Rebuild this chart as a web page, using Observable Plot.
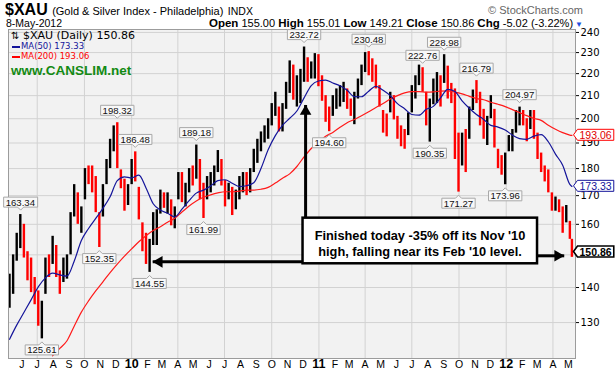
<!DOCTYPE html>
<html><head><meta charset="utf-8">
<script src="https://cdn.jsdelivr.net/npm/d3@7"></script>
<script src="https://cdn.jsdelivr.net/npm/@observablehq/plot@0.6"></script>
<style>
body{margin:0;background:#fff;}
#wrap{position:relative;width:616px;height:376px;overflow:hidden;font-family:"Liberation Sans",Arial,sans-serif;}
#wrap svg{position:absolute;left:0;top:0;}
.t{position:absolute;white-space:nowrap;}
</style></head><body><div id="wrap"></div>
<script>
// ---- data ----
const firstWeek = Date.UTC(2009, 4, 8);   // Friday of the first weekly bar
const weekHigh = [144,150,157,163.34,160,151,149,143,139,136,
149,150,156,153,145,149,150,164,174,171,
166,180,181,181,177,164,174,183.5,191.5,197,
198.32,179.5,176,174,183.5,186.48,173,160.5,157,155,
164,165,172,171,171,168.5,166,178.5,178.5,174.5,
180,181,189.18,183.5,174.5,177,178.5,181,187,183.5,
175.5,174.5,173,172,177,178.5,178.5,180,187.5,191.5,
194.5,197,200,206.5,211.5,205,206.5,216,226,224,
219,222,232.72,227.5,225.5,229.5,229,219,210,205,
210,213,214.5,216,213,208.5,211.5,217.5,224,230,
230.48,227,224,214.5,203.5,202,211.5,210,201,197,
195.5,202.5,214.5,219,224,222.76,211.5,208.5,217.5,220.5,
219,228.98,223.5,215.5,213,194,194,195.5,205,212.5,
216.79,211.5,204,201,210,204,187.5,185,186,193,
195.5,203.5,204.97,203.5,200,203.5,203.5,194,186,181,
179.5,171,169.5,168.5,166,166.5,161];
const weekLow = [134,138,148,152,149,142,138.5,135,129,125.61,
138,143,147,143,138,141.5,142.5,150,162.5,160,
157,168.5,174,171,164,152.35,162.5,174,180,186.5,
180,172.5,164.5,166.5,174,175,161.5,151,147,144.55,
153,153,163.5,165.5,163.5,159.5,158.5,168.5,167.5,166,
171,173.5,176,168.5,161.99,168.5,171,173.5,178.5,173.5,
166,168.5,163,165,168.5,171,170,171,178.5,182,
186.5,190,191.5,197,201,194.5,194.5,204,211,208,
205,206.5,216,216,217.5,217.5,214,207.5,198.5,194.6,
201,204,205,207,204,201,197.5,208.5,214.5,220.5,
219,216,213,205,194,192.5,202.5,199.5,191.5,188.5,
187.5,193,202.5,208.5,214.5,211.5,197,190.35,206,206.5,
205,215.5,208.5,206.5,183.5,171.27,181,178.5,191.5,203.5,
206.5,197,191.5,189,200,188,180,177.5,173.96,186.5,
186.5,194,197,197,190.5,195.5,191.5,183.5,178.5,175,
171,164.5,164.5,164,157,160.5,155];
const weekClose = [139,148,155,158,151,145,143,137,131,134,
147,145,154,145,142,147,149,162,170,163,
165,178,177,175,166,160,172,182,189,195,
182,175,167,172,181,176,163,154,150,152,
162,163,170,167,168,163,165,177,170,172,
178,176,186,171,170,175,176,179,184,176,
168,171,165,170,175,176,173,178,186,189,
193,195,197,205,209,197,205,212,222,212,
215,220,228,220,223,227,216,211,202,198,
207,210,212,214,207,205,208,215,222,228,
224,223,217,207,198,196,209,202,194,192,
190,200,212,217,221,214,200,205,214,218,
215,222,212,209,188,183,188,186,202,210,
208,200,195,198,207,190,182,180,184,190,
194,201,202,199,193,201,196,186,180,177,
173,166,167,165,159,163,155.88];
const lastDate = Date.UTC(2012, 4, 8);
const lastHigh = 155.01, lastLow = 149.21, lastClose = 150.86;

const maStep = 2;                 // MA readings every 2nd week
const ma50 = [125.5,129.3,132.8,136.4,140.2,142.9,144.3,143.8,143.4,148,
154.6,158.6,162,165.5,169.6,175.5,176.9,176.5,177.5,172.8,
167.1,164.9,163.8,162.5,165.2,168.2,170.9,172,173.5,175.5,
175.8,174.5,173.3,173.6,174.7,180,187.3,193,197.2,200.2,
203.3,209,214.5,216.6,217,215.7,214.4,212.4,209.6,209.5,
212,214.2,212.4,210,206.5,204.3,201.8,201.5,204,205.3,
209,212.8,211.8,207.7,204.5,201.8,199.7,197.2,196.5,195.3,
193.2,191.8,191.5,192.8,193.4,190.5,185.6,181.3,174.1];
const ma50Start = 0, ma50Last = 173.33;
const ma200 = [121.2,123.1,125.1,129,132.9,136.1,139,141.7,144.5,147.1,
149.6,151.9,154.2,156.2,157.9,159.2,160.7,162.1,164.2,166.3,
168.1,169.4,170.3,171,171.4,171.4,171.6,172,172,172.3,
173,174.6,176.4,178,180.8,184.5,187.8,190.3,192.7,194.3,
196.4,198.3,199.7,201.3,203,204.8,206.5,208.5,210,211.2,
211.8,211.8,211.6,211.7,212,212.1,211.6,210.8,209.7,208.7,
208.2,207.1,206.2,205.2,203.9,202.6,201.3,200.1,199.3,197.3,
195.6,194.2,193.2];
const ma200Start = 12, ma200Last = 193.06;

const peakWeek  = [3,30,35,52,82,100,115,121,130,142];
const peakValue = [163.34,198.32,186.48,189.18,232.72,230.48,222.76,228.98,216.79,204.97];
const lowWeek   = [9,25,39,54,89,117,125,138];
const lowValue  = [125.61,152.35,144.55,161.99,194.60,190.35,171.27,173.96];

const yTicks = [130,140,160,170,180,190,200,210,220,230,240];
const yGrid  = [130,140,150,160,170,180,190,200,210,220,230,240];
const monthLetters = ["J","F","M","A","M","J","J","A","S","O","N","D"];

const noteText = "Finished today -35% off its Nov '10\nhigh, falling near its Feb '10 level.";
const noteBox = {x1: Date.UTC(2010,11,1), x2: Date.UTC(2012,2,2), yTop: 162.1, yBottom: 147.2, yText: 154.0, xText: Date.UTC(2011,6,17)};
const arrowUp = {x: Date.UTC(2010,11,6), yFrom: 162.1, yTip: 205.9};
const arrowLeft = {xTip: Date.UTC(2010,1,11), xFrom: Date.UTC(2010,11,1), y: 147.8};
const arrowRight = {xFrom: Date.UTC(2012,2,2), xTip: Date.UTC(2012,3,23), y: 149.7};

// ---- build tables ----
const DAY = 864e5;
const weekDate = i => new Date(firstWeek + i * 7 * DAY);
const bars = weekHigh.map((h, i) => ({date: weekDate(i), high: h, low: weekLow[i], close: weekClose[i]}));
bars.push({date: new Date(lastDate), high: lastHigh, low: lastLow, close: lastClose});
bars.forEach((d, i) => d.up = i === 0 ? true : d.close >= bars[i - 1].close);

const ma50Data = ma50.map((v, k) => ({date: weekDate(ma50Start + k * maStep), v}));
ma50Data.push({date: new Date(lastDate), v: ma50Last});
const ma200Data = ma200.map((v, k) => ({date: weekDate(ma200Start + k * maStep), v}));
ma200Data.push({date: new Date(lastDate), v: ma200Last});

const peaks = peakWeek.map((w, i) => ({date: weekDate(w), value: peakValue[i]}));
const lows = lowWeek.map((w, i) => ({date: weekDate(w), value: lowValue[i]}));

const months = d3.utcMonth.range(new Date(Date.UTC(2009,5,1)), new Date(Date.UTC(2012,5,1)));
const quarters = months.filter(d => d.getUTCMonth() % 3 === 0);

const chart = Plot.plot({
  width: 616, height: 376,
  marginTop: 29, marginBottom: 18, marginLeft: 8, marginRight: 41,
  style: {fontFamily: "DejaVu Sans", fontSize: "10px", background: "transparent", color: "#000"},
  x: {type: "utc", domain: [new Date(Date.UTC(2009,4,6)), new Date(Date.UTC(2012,4,15))], axis: null},
  y: {type: "log", domain: [120.5, 241.5], axis: "right", ticks: yTicks, tickFormat: d => String(d), tickSize: 3, tickPadding: 2, label: null},
  marks: [
    Plot.frame({fill: "#f2f2f2", stroke: "none"}),
    Plot.ruleY(yGrid, {stroke: "#d2d2d2"}),
    Plot.ruleX(quarters, {stroke: "#d2d2d2"}),
    Plot.ruleX(bars.filter(d => d.up), {x: "date", y1: "low", y2: "high", stroke: "#000", strokeWidth: 2.4}),
    Plot.ruleX(bars.filter(d => !d.up), {x: "date", y1: "low", y2: "high", stroke: "#f00", strokeWidth: 2.4}),
    Plot.line(ma200Data, {x: "date", y: "v", stroke: "#ff1a1a", strokeWidth: 1.2, curve: "monotone-x", clip: true}),
    Plot.line(ma50Data, {x: "date", y: "v", stroke: "#14149a", strokeWidth: 1.2, curve: "monotone-x", clip: true}),
    Plot.frame({stroke: "#9c9c9c"}),
    Plot.text(months.filter(d => d.getUTCMonth() !== 0), {x: d => d, text: d => monthLetters[d.getUTCMonth()], frameAnchor: "bottom", dy: 9, fontFamily: "Liberation Sans", fontSize: 10.5}),
    Plot.text(months.filter(d => d.getUTCMonth() === 0), {x: d => d, text: d => String(d.getUTCFullYear()).slice(2), frameAnchor: "bottom", dy: 9, fontFamily: "Liberation Sans", fontWeight: "bold", fontSize: 12.5}),
    // annotation
    Plot.link([arrowLeft], {x1: "xTip", x2: "xFrom", y1: "y", y2: "y", stroke: "#000", strokeWidth: 3}),
    Plot.dot([arrowLeft], {x: "xTip", y: "y", symbol: "triangle", r: 4.3, rotate: -90, fill: "#000", stroke: "none", dx: 6.5}),
    Plot.link([arrowRight], {x1: "xFrom", x2: "xTip", y1: "y", y2: "y", stroke: "#000", strokeWidth: 3}),
    Plot.dot([arrowRight], {x: "xTip", y: "y", symbol: "triangle", r: 4.3, rotate: 90, fill: "#000", stroke: "none", dx: -6.5}),
    Plot.link([arrowUp], {x1: "x", x2: "x", y1: "yFrom", y2: "yTip", stroke: "#000", strokeWidth: 3}),
    Plot.dot([arrowUp], {x: "x", y: "yTip", symbol: "triangle", r: 4.3, fill: "#000", stroke: "none", dy: 6.5}),
    Plot.rect([noteBox], {x1: "x1", x2: "x2", y1: "yBottom", y2: "yTop", fill: "#fff", stroke: "#000", strokeWidth: 2.5}),
    Plot.text([noteBox], {x: "xText", y: "yText", text: () => noteText, fontFamily: "Liberation Sans", fontWeight: "bold", fontSize: 12.8, lineHeight: 1.25, fill: "#000"}),
    // extreme labels
    Plot.text(peaks, {x: "date", y: "value", text: d => d.value.toFixed(2), dy: -12, fontFamily: "Liberation Sans", fontSize: 9.6, fill: "#111"}),
    Plot.text(lows, {x: "date", y: "value", text: d => d.value.toFixed(2), dy: 11.5, fontFamily: "Liberation Sans", fontSize: 9.6, fill: "#111"}),
    // right value tags
    Plot.text([ma200Last], {y: d => d, text: d => d.toFixed(2), frameAnchor: "right", dx: 4, textAnchor: "start", fill: "#e00000", fontFamily: "Liberation Sans", fontSize: 10.5}),
    Plot.text([ma50Last], {y: d => d, text: d => d.toFixed(2), frameAnchor: "right", dx: 4, textAnchor: "start", fill: "#14149a", fontFamily: "Liberation Sans", fontSize: 10.5}),
    Plot.text([lastClose], {y: d => d, text: d => d.toFixed(2), frameAnchor: "right", dx: 4, textAnchor: "start", fill: "#000", fontFamily: "Liberation Sans", fontSize: 10.5, fontWeight: "bold"})
  ]
});

const wrap = document.getElementById("wrap");
wrap.append(chart);

// label boxes behind the texts (found by their text)
const NS = "http://www.w3.org/2000/svg";
const peakSet = new Set(peakValue.map(v => v.toFixed(2)));
const lowSet = new Set(lowValue.map(v => v.toFixed(2)));
const tagStyle = {
  [ma200Last.toFixed(2)]: ["#ff0000", 1],
  [ma50Last.toFixed(2)]: ["#14149a", 1],
  [lastClose.toFixed(2)]: ["#000", 1.6]
};
function boxFor(t, kind, stroke, fill, sw) {
  const b = t.getBBox();
  const x0 = b.x - 2, x1 = b.x + b.width + 2, y0 = b.y + 0.5, y1 = b.y + b.height - 0.5;
  const cx = (x0 + x1) / 2, cy = (y0 + y1) / 2;
  let d;
  if (kind === "high") d = `M${x0},${y0}H${x1}V${y1}H${cx+3}L${cx},${y1+3}L${cx-3},${y1}H${x0}Z`;
  else if (kind === "low") d = `M${x0},${y0}H${cx-3}L${cx},${y0-3}L${cx+3},${y0}H${x1}V${y1}H${x0}Z`;
  else d = `M${x0-4},${cy}L${x0},${y0}H${x1}V${y1}H${x0}Z`;
  const p = document.createElementNS(NS, "path");
  p.setAttribute("d", d);
  p.setAttribute("fill", fill);
  p.setAttribute("stroke", stroke);
  p.setAttribute("stroke-width", sw);
  if (t.getAttribute("transform")) p.setAttribute("transform", t.getAttribute("transform"));
  t.parentNode.insertBefore(p, t);
}
Array.from(chart.querySelectorAll("text")).forEach(t => {
  const s = t.textContent.trim();
  if (peakSet.has(s)) boxFor(t, "high", "#a8a8a8", "#f8f8f8", 1);
  else if (lowSet.has(s)) boxFor(t, "low", "#a8a8a8", "#f8f8f8", 1);
  else if (tagStyle[s]) boxFor(t, "tag", tagStyle[s][0], "#fff", tagStyle[s][1]);
});

// header and legend text
function addText(html, css) {
  const d = document.createElement("div");
  d.className = "t";
  d.style.cssText = css;
  d.innerHTML = html;
  wrap.append(d);
}
addText(`<span style="font:bold 16px 'Liberation Sans Narrow','Liberation Sans',sans-serif">$XAU</span> <span style="font-size:11px">(Gold &amp; Silver Index - Philadelphia)</span> <span style="font-size:10.5px">INDX</span>`,
  "left:5px;top:1px;line-height:18px;");
addText(`&copy; StockCharts.com`, "right:33px;top:3px;line-height:14px;font-size:11px;color:#666;");
addText(`8-May-2012`, "left:6px;top:16px;line-height:14px;font-size:10.5px;");
addText(`<b style="font-size:11.5px">Open</b> 155.00 <b style="font-size:11.5px">High</b> 155.01 <b style="font-size:11.5px">Low</b> 149.21 <b style="font-size:11.5px">Close</b> 150.86 <b style="font-size:11.5px">Chg</b> -5.02 (-3.22%)<span style="color:#1f4fe0;font-size:8px;margin-left:2px">&#9660;</span>`,
  "right:33px;top:16px;line-height:14px;font-size:11px;");
addText(`<span style="font-size:10px">&#8645;</span> $XAU (Daily) 150.86`, "left:11px;top:29px;line-height:14px;font:11px 'DejaVu Sans',sans-serif;");
addText(`<span style="display:inline-block;width:8px;height:2px;background:#14149a;vertical-align:middle;margin-right:1px"></span>MA(50) 173.33`, "left:12px;top:41px;line-height:12px;font:8.5px 'DejaVu Sans',sans-serif;color:#14149a;");
addText(`<span style="display:inline-block;width:8px;height:2px;background:#ff0000;vertical-align:middle;margin-right:1px"></span>MA(200) 193.06`, "left:12px;top:51px;line-height:12px;font:8.5px 'DejaVu Sans',sans-serif;color:#ff0000;");
addText(`www.CANSLIM.net`, "left:11px;top:63px;line-height:18px;font:bold 13.5px 'Liberation Sans',sans-serif;color:#138a13;");
</script></body></html>
